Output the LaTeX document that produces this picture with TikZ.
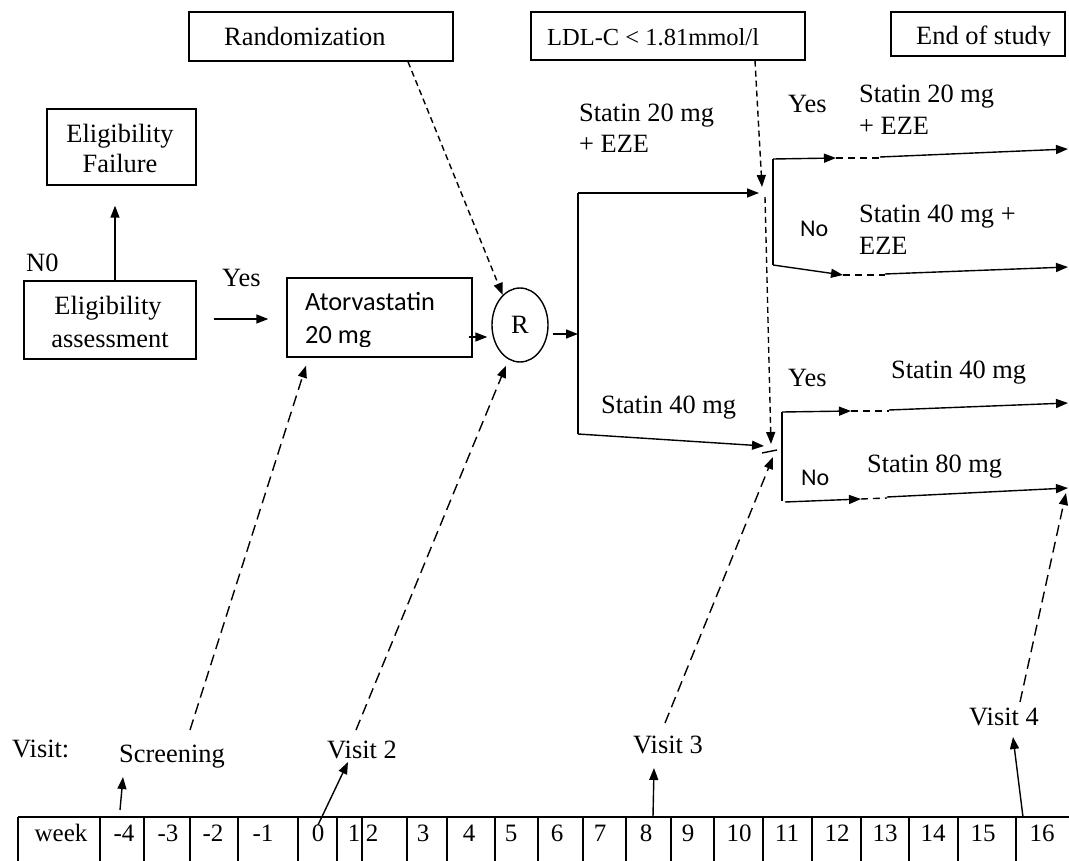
\documentclass[tikz,border=0pt]{standalone}
\usepackage{fontspec}
\setmainfont{Liberation Serif}
\newfontfamily\calfont{Carlito}
\usetikzlibrary{arrows.meta,shapes.geometric}
\begin{document}
\begin{tikzpicture}[x=1pt,y=-1pt,
  box/.style={draw, line width=1.4pt, inner sep=0pt},
  txt/.style={inner sep=0pt, anchor=base west, font=\fontsize{26.4}{31}\selectfont},
  ctxt/.style={inner sep=0pt, anchor=base, font=\fontsize{26.4}{31}\selectfont},
  sans/.style={inner sep=0pt, anchor=base west, font=\calfont\fontsize{24}{28}\selectfont},
  num/.style={inner sep=0pt, anchor=base, font=\fontsize{25}{29}\selectfont},
  conn/.style={line width=1.4pt},
  arr/.style={conn, -{Triangle[length=12pt,width=9pt]}},
  sdash/.style={dash pattern=on 6pt off 4pt},
  ldash/.style={dash pattern=on 11pt off 6pt},
  bdash/.style={conn, dash pattern=on 7pt off 5pt},
]
\useasboundingbox (0,0) rectangle (1069,861);
\fill[white] (0,0) rectangle (1069,861);

% ---- boxes ----
\node[box, minimum width=264pt, minimum height=49pt] (rand) at (321,36.5) {};
\node[txt] (randt) at (224,46) {Randomization};

\node[box, minimum width=274pt, minimum height=48pt] (ldl) at (668,36) {};
\node[txt, font=\fontsize{24.5}{29}\selectfont] (ldlt) at (547,46) {LDL-C < 1.81mmol/l};

\node[box, minimum width=174pt, minimum height=44pt] (eos) at (978,34) {};
\begin{scope}
  \clip (885,0) rectangle (1069,45.5);
  \node[txt] (eost) at (916,45) {End of study};
\end{scope}

\node[box, minimum width=149pt, minimum height=76pt] (ef) at (121.5,147) {};
\node[ctxt] (ef1) at (120,143) {Eligibility};
\node[ctxt] (ef2) at (120,173) {Failure};

\node[box, minimum width=172pt, minimum height=78pt] (ea) at (110,320) {};
\node[ctxt] (ea1) at (108,315) {Eligibility};
\node[ctxt] (ea2) at (110,347) {assessment};

\node[txt] (n0) at (26,272) {N0};
\node[txt] (yes1) at (222,287) {Yes};

\node[box, minimum width=185pt, minimum height=79pt] (at) at (379.5,317.5) {};
\node[txt, font=\calfont\fontsize{26.3}{31}\selectfont] (at1) at (305,310) {Atorvastatin};
\begin{scope}
  \clip (290,320) rectangle (470,346.5);
  \node[txt, font=\calfont\fontsize{26.3}{31}\selectfont] (at2) at (305,344) {20 mg};
\end{scope}

\node[draw, ellipse, line width=1.4pt, minimum width=56pt, minimum height=74pt,
      inner sep=0pt, font=\fontsize{26.4}{31}\selectfont] (R) at (520,325) {R};

% ---- branch labels ----
\node[txt] (s20a) at (579,122) {Statin 20 mg};
\node[txt] (s20b) at (579,153) {+ EZE};
\node[txt] (s40a) at (601,413) {Statin 40 mg};
\node[txt] (yes2) at (788,113) {Yes};
\node[txt] (r1a) at (859,103) {Statin 20 mg};
\node[txt] (r1b) at (859,135) {+ EZE};
\node[sans] (no1) at (800,237) {No};
\node[txt] (r2a) at (859,223) {Statin 40 mg +};
\node[txt] (r2b) at (859,255) {EZE};
\node[txt] (yes3) at (788,386) {Yes};
\node[txt] (r3) at (891,378) {Statin 40 mg};
\node[sans] (no2) at (801,485) {No};
\node[txt] (r4) at (867,472) {Statin 80 mg};

% ---- visit labels ----
\node[txt] (vis) at (12,757) {Visit:};
\node[txt] (scr) at (119,762) {Screening};
\node[txt] (v2) at (327,758) {Visit 2};
\node[txt] (v3) at (633,753) {Visit 3};
\node[txt] (v4) at (969,725) {Visit 4};

% ---- week table ----
\draw[conn] (18,817) -- (1069,817);
\foreach \x in {18,100,144,190,238,298,337,362,407,447,495,538,583,626,671,714,763,812,861,909,958,1016}
  \draw[conn] (\x,817) -- (\x,862);
\foreach \t/\x [count=\i] in {week/61,-4/124,-3/168,-2/213,-1/263,0/318,1/354,2/372,3/423,4/469,5/511,6/557,7/600,8/646,9/688,10/739,11/787,12/837,13/885,14/933,15/983,16/1042}
  \node[num] (w\i) at (\x,841) {\t};

% ---- coordinates ----
\coordinate (sp) at (578,334);
\coordinate (sT) at (578,193);
\coordinate (sB) at (578,434);
\coordinate (jT) at (759,193);
\coordinate (jB) at (764,446);
\coordinate (tY) at (773,159);
\coordinate (tN) at (773,265);
\coordinate (tYa) at (836,158);
\coordinate (tYb) at (880,158);
\coordinate (tYc) at (880,157);
\coordinate (e1) at (1068,149);
\coordinate (tNa) at (843,275);
\coordinate (tNb) at (885,275);
\coordinate (tNc) at (885,274);
\coordinate (e2) at (1068,267);
\coordinate (bY) at (782,412);
\coordinate (bN) at (782,501);
\coordinate (bYa) at (851,411);
\coordinate (bYb) at (889,411);
\coordinate (bYc) at (889,410);
\coordinate (e3) at (1068,403);
\coordinate (bN0) at (785,502);
\coordinate (bNa) at (861,499);
\coordinate (bNb) at (887,498);
\coordinate (bNc) at (887,497);
\coordinate (e4) at (1068,488);
\coordinate (l1) at (762,187);
\coordinate (l2) at (765,197);
\coordinate (l3) at (771,444);
\coordinate (k1) at (762,453);
\coordinate (k2) at (777,450);
\coordinate (d1) at (190,730);
\coordinate (d2) at (356,730);
\coordinate (d3) at (665,723);
\coordinate (d3t) at (773,457);
\coordinate (d4) at (1020,702);
\coordinate (d4t) at (1066,493);
\coordinate (a1) at (120,810);
\coordinate (a1t) at (123,777);
\coordinate (a2) at (318,825);
\coordinate (a2t) at (348,762);
\coordinate (a3) at (653,817);
\coordinate (a3t) at (654,768);
\coordinate (a4) at (1023,817);
\coordinate (a4t) at (1013,737);

% ---- connectors ----
\draw[arr] ([xshift=5pt]ea.north) -- ([xshift=-6.5pt,yshift=-20pt]ef.south);
\draw[arr] ([xshift=17pt,yshift=1pt]ea.east) -- ([xshift=-18pt,yshift=1pt]ea.east -| at.west);
\draw[arr] ([xshift=-4pt,yshift=-19.5pt]at.east) -- ([xshift=-4pt,yshift=-19.5pt]at.east -| R.west);
\draw[arr] ([xshift=4pt,yshift=-9pt]R.east) -- (sp);

\draw[conn] (sT) -- (sB);
\draw[arr] (sT) -- (jT);
\draw[arr] (sB) -- (jB);

\draw[conn] (tY) -- (tN);
\draw[arr] (tY) -- (tYa);
\draw[bdash] (tYa) -- (tYb);
\draw[arr] (tYc) -- (e1);
\draw[arr] (tN) -- (tNa);
\draw[bdash] (tNa) -- (tNb);
\draw[arr] (tNc) -- (e2);

\draw[conn] (bY) -- (bN);
\draw[arr] (bY) -- (bYa);
\draw[bdash] (bYa) -- (bYb);
\draw[arr] (bYc) -- (e3);
\draw[arr] (bN0) -- (bNa);
\draw[bdash] (bNa) -- (bNb);
\draw[arr] (bNc) -- (e4);

\draw[arr, sdash] ([xshift=87pt]ldl.south) -- (l1);
\draw[arr, sdash] (l2) -- (l3);
\draw[conn] (k1) -- (k2);
\draw[arr, sdash] ([xshift=87pt]rand.south) -- (R.120);

\draw[arr, ldash] (d1) -- ([xshift=-73.5pt,yshift=-8pt]at.south);
\draw[arr, ldash] (d2) -- ([xshift=-14pt,yshift=-3pt]R.south);
\draw[arr, ldash] (d3) -- (d3t);
\draw[arr, ldash] (d4) -- (d4t);

\draw[arr] (a1) -- (a1t);
\draw[arr] (a2) -- (a2t);
\draw[arr] (a3) -- (a3t);
\draw[arr] (a4) -- (a4t);
\end{tikzpicture}
\end{document}
